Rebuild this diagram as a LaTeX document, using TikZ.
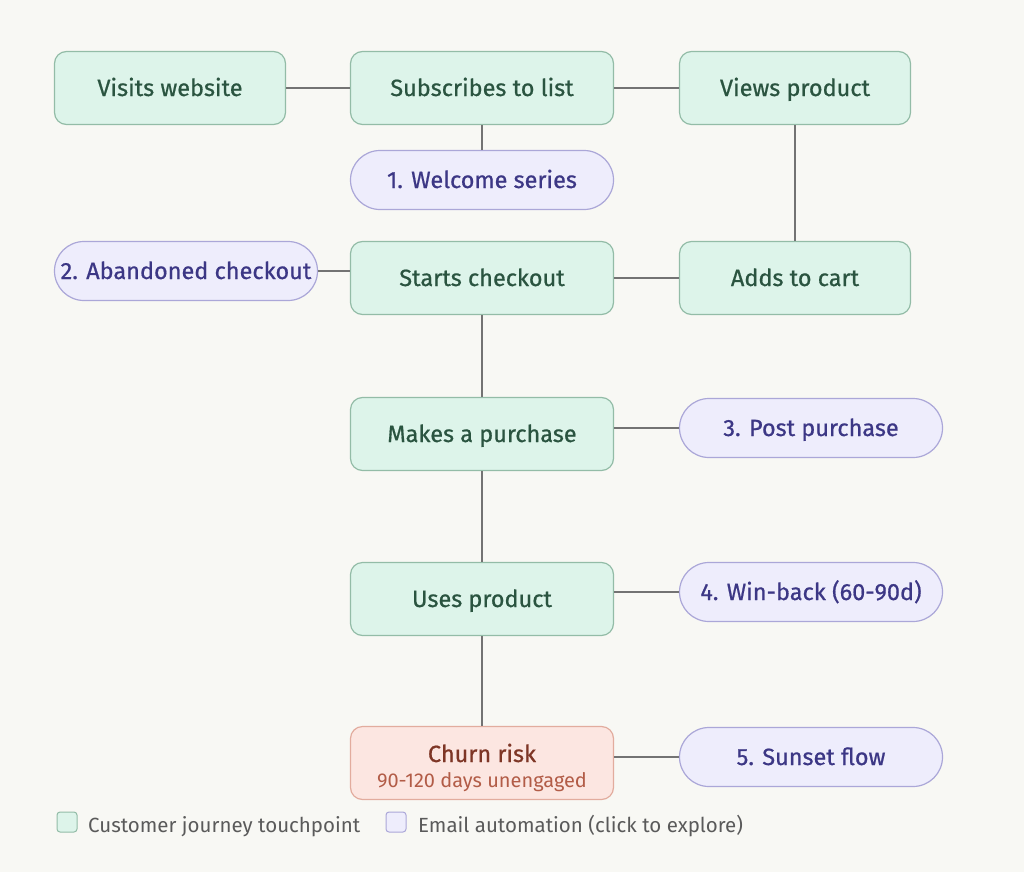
\documentclass[tikz,border=0pt]{standalone}
\usepackage{fontspec}
\setmainfont{Fira Sans}
\newfontfamily\nodefont{Fira Sans}[RawFeature={embolden=0.7}]
\usetikzlibrary{shapes.misc}
\definecolor{bg}{HTML}{F8F8F4}
\definecolor{gfill}{HTML}{DDF4EA}
\definecolor{gdraw}{HTML}{93BCA7}
\definecolor{gtext}{HTML}{2A5440}
\definecolor{pfill}{HTML}{EEEDFC}
\definecolor{pdraw}{HTML}{ABA7D8}
\definecolor{ptext}{HTML}{3C3785}
\definecolor{rfill}{HTML}{FCE6E1}
\definecolor{rdraw}{HTML}{E2AC9E}
\definecolor{rtext}{HTML}{7E3626}
\definecolor{rsub}{HTML}{B25C47}
\definecolor{lnk}{HTML}{737373}
\definecolor{legtext}{HTML}{5A5A5A}
\tikzset{
  touch/.style={draw=gdraw, fill=gfill, line width=1.2pt, rounded corners=12pt,
    minimum height=73pt, text=gtext, font=\nodefont\fontsize{23.5}{27}\selectfont, inner sep=0pt,
    text height=18pt, text depth=2pt},
  wide/.style={minimum width=263pt},
  narrow/.style={minimum width=231pt},
  auto/.style={draw=pdraw, fill=pfill, line width=1.2pt, rounded rectangle,
    minimum height=59pt, minimum width=263pt, text=ptext, font=\nodefont\fontsize{23.5}{27}\selectfont, inner sep=0pt,
    text height=18pt, text depth=2pt},
  churn/.style={draw=rdraw, fill=rfill, line width=1.2pt, rounded corners=12pt,
    minimum height=73pt, minimum width=263pt, inner sep=0pt},
  link/.style={draw=lnk, line width=1.6pt},
  legbox/.style={line width=1pt, rounded corners=3pt, minimum width=20pt, minimum height=20pt, inner sep=0pt},
  legtxt/.style={text=legtext, font=\fontsize{20.5}{24}\selectfont, anchor=base west, inner sep=0pt}
}
\begin{document}
\begin{tikzpicture}[x=1pt,y=-1pt]
\useasboundingbox (0,0) rectangle (1024,872);
\fill[bg] (0,0) rectangle (1024,872);
\node[touch,narrow] (visits) at (170,88) {Visits website};
\node[touch,wide] (subs) at (482,88) {Subscribes to list};
\node[touch,narrow] (views) at (795,88) {Views product};
\node[auto] (welcome) at (482,180) {1. Welcome series};
\node[auto] (aband) at (186,271) {2. Abandoned checkout};
\node[touch,wide] (starts) at (482,278) {Starts checkout};
\node[touch,narrow] (cart) at (795,278) {Adds to cart};
\node[touch,wide] (makes) at (482,434) {Makes a purchase};
\node[auto] (post) at (811,428) {3. Post purchase};
\node[touch,wide] (uses) at (482,599) {Uses product};
\node[auto] (win) at (811,592) {4. Win-back (60-90d)};
\node[churn] (churnn) at (482,763) {};
\node[text=rtext, font=\nodefont\fontsize{23.5}{27}\selectfont, anchor=base, inner sep=0pt] (churnt) at (482,762) {Churn risk};
\node[text=rsub, font=\fontsize{20}{24}\selectfont, anchor=base, inner sep=0pt] (churns) at (482,787) {90-120 days unengaged};
\node[auto] (sunset) at (811,757) {5. Sunset flow};
% connectors
\draw[link] (visits) -- (subs);
\draw[link] (subs) -- (views);
\draw[link] (subs) -- (welcome);
\draw[link] (views) -- (cart);
\draw[link] (aband.east) -- (aband.east -| starts.west);
\draw[link] (starts) -- (cart);
\draw[link] (starts) -- (makes);
\draw[link] (post.west) -- (post.west -| makes.east);
\draw[link] (makes) -- (uses);
\draw[link] (win.west) -- (win.west -| uses.east);
\draw[link] (uses) -- (churnn);
\draw[link] (sunset.west) -- (sunset.west -| churnn.east);
% legend
\node[legbox, draw=gdraw, fill=gfill] (lg1) at (67,822) {};
\node[legtxt] (lt1) at (88,832) {Customer journey touchpoint};
\node[legbox, draw=pdraw, fill=pfill] (lg2) at (396,822) {};
\node[legtxt] (lt2) at (418,832) {Email automation (click to explore)};
\end{tikzpicture}
\end{document}
